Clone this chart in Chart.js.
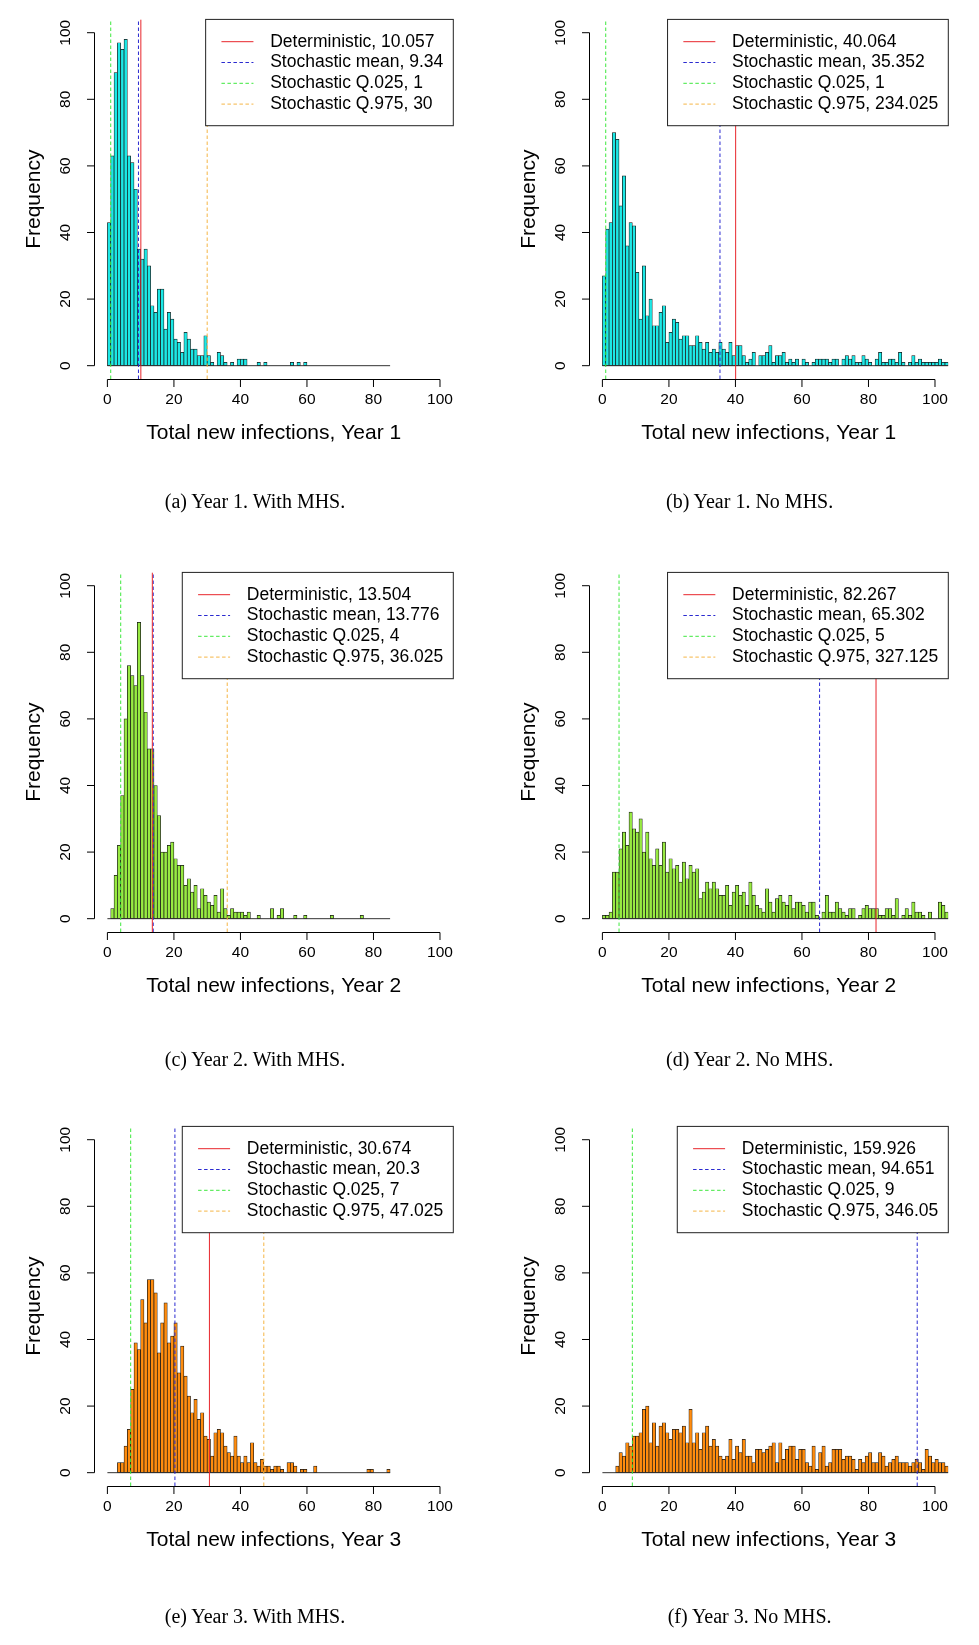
<!DOCTYPE html>
<html>
<head>
<meta charset="utf-8">
<script src="https://cdn.jsdelivr.net/npm/chart.js@4.4.1/dist/chart.umd.min.js"></script>
<style>
  body { margin: 0; background: #fff; width: 979px; height: 1645px; position: relative; overflow: hidden; }
  canvas { position: absolute; }
  .cap { position: absolute; width: 400px; text-align: center; font-family: "Liberation Serif", "Times New Roman", serif; font-size: 20px; line-height: 24px; color: #000; }
</style>
</head>
<body>
<script>
// axis ticks (both panels use the same)
const xTicks = [0, 20, 40, 60, 80, 100];
const yTicks = [0, 20, 40, 60, 80, 100];
const lineNames = ['Deterministic', 'Stochastic mean', 'Stochastic Q.025', 'Stochastic Q.975'];

// histogram counts, one per bin of width 1 starting at 0
const y1Mhs = [43,63,88,97,95,98,63,61,53,35, 32,35,30,18,16,23,23,11,16,14, 8,7,4,10,8,5,5,3,3,9,
  3,1,0,4,3,1,0,1,0,2, 2,2,0,0,0,1,0,1,0,0, 0,0,0,0,0,1,0,1,0,1, 0,0,0,0,0,0,0,0,0,0,
  0,0,0,0,0,0,0,0,0,0, 0,0,0,0,0];
const y1NoMhs = [27,41,43,70,68,48,57,36,43,42, 28,14,30,15,20,12,12,16,18,7, 10,14,13,8,9,9,6,6,9,7,
  5,7,4,5,4,7,5,4,7,3, 6,6,3,1,2,4,0,3,3,4, 6,1,3,3,4,1,2,1,2,0, 2,1,0,1,2,2,2,2,1,2,
  2,0,2,3,2,3,1,1,3,2, 1,0,2,4,1,1,2,2,1,4, 1,0,1,3,1,2,1,1,1,1, 1,2,1,1];
const y2Mhs = [0,3,13,22,37,60,76,73,70,89, 73,62,51,51,40,31,20,20,22,23, 18,16,16,10,12,8,10,3,9,7,
  5,4,7,2,9,3,1,3,2,2, 2,1,2,0,0,1,0,0,0,3, 0,1,3,0,0,0,1,0,0,1, 0,0,0,0,0,0,0,1,0,0,
  0,0,0,0,0,0,1,0,0,0, 0,0,0,0,0];
const y2NoMhs = [1,1,2,14,14,21,26,22,32,27, 26,30,20,26,18,16,21,16,23,14, 18,15,16,11,17,12,16,14,15,6,
  8,11,9,11,9,7,7,10,4,8, 10,7,8,4,11,7,4,3,2,9, 5,2,6,7,5,4,7,3,5,5, 4,2,5,5,1,0,2,7,2,2,
  5,3,2,1,3,3,0,1,3,4, 3,3,3,1,1,3,3,1,6,0, 1,3,1,5,2,2,1,0,2,0, 0,5,4,2];
const y3Mhs = [0,0,0,3,3,8,13,25,39,37, 52,45,58,58,54,36,45,51,39,41, 45,30,38,29,23,18,22,16,18,11,
  10,5,12,13,12,8,6,5,11,5, 3,5,3,9,3,2,4,2,2,1, 2,2,1,0,3,3,2,0,1,1, 0,0,2,0,0,0,0,0,0,0,
  0,0,0,0,0,0,0,0,1,1, 0,0,0,0,1];
const y3NoMhs = [0,0,0,0,2,6,5,9,8,11, 11,12,19,20,9,15,8,14,15,12, 10,13,13,12,14,9,19,9,12,7,
  12,14,8,10,8,5,4,5,10,4, 8,6,10,5,5,3,7,7,6,7, 8,9,3,9,4,7,8,8,4,7, 7,3,2,8,1,6,8,2,3,7,
  7,7,4,5,5,4,1,4,3,5, 6,3,3,6,5,2,3,4,5,3, 3,3,2,3,4,3,1,7,5,3, 4,3,3,2];

// deterministic, stochastic mean, Q.025, Q.975
const y1MhsStats = [10.057, 9.34, 1, 30];
const y1NoMhsStats = [40.064, 35.352, 1, 234.025];
const y2MhsStats = [13.504, 13.776, 4, 36.025];
const y2NoMhsStats = [82.267, 65.302, 5, 327.125];
const y3MhsStats = [30.674, 20.3, 7, 47.025];
const y3NoMhsStats = [159.926, 94.651, 9, 346.05];

const xTitles = ['Total new infections, Year 1', 'Total new infections, Year 2', 'Total new infections, Year 3'];
const captions = ['(a) Year 1. With MHS.', '(b) Year 1. No MHS.', '(c) Year 2. With MHS.',
  '(d) Year 2. No MHS.', '(e) Year 3. With MHS.', '(f) Year 3. No MHS.'];

const lineColors = ['#e8262c', '#2a2ad0', '#3ee83e', '#f5b545'];
const lineDashes = [[], [3.5, 2.5], [3.5, 2.5], [3.5, 2.5]];
const yearFills = ['#1ce8e6', '#98ea42', '#ff8c0e'];

const FONT = '"Liberation Sans", Arial, Helvetica, sans-serif';
const CW = 484, CH = 553;
const colX = [0, 494.6];
const rowY = [0, 553.3, 1106.5];
const capY = [489, 1047, 1604];

const panels = [
  { counts: y1Mhs, stats: y1MhsStats, row: 0, col: 0 },
  { counts: y1NoMhs, stats: y1NoMhsStats, row: 0, col: 1 },
  { counts: y2Mhs, stats: y2MhsStats, row: 1, col: 0 },
  { counts: y2NoMhs, stats: y2NoMhsStats, row: 1, col: 1 },
  { counts: y3Mhs, stats: y3MhsStats, row: 2, col: 0 },
  { counts: y3NoMhs, stats: y3NoMhsStats, row: 2, col: 1 }
];

// R base graphics look: legend box top-right, axes only over the tick range
const rStyle = {
  id: 'rStyle',
  afterDatasetsDraw(chart) {
    const p = chart.options.plugins.rStyle;
    const { ctx, chartArea: a } = chart;
    ctx.save();
    ctx.font = '17.5px ' + FONT;
    const labels = p.stats.map((v, i) => lineNames[i] + ', ' + v);
    const maxW = Math.max(...labels.map(t => ctx.measureText(t).width));
    const w = 64.5 + maxW + 10, h = 106.3;
    const left = a.right - w, top = a.top;
    ctx.fillStyle = '#fff';
    ctx.fillRect(left, top, w, h);
    ctx.strokeStyle = '#222';
    ctx.lineWidth = 1;
    ctx.strokeRect(left, top, w, h);
    labels.forEach((t, i) => {
      const cy = top + 22.3 + 20.8 * i;
      ctx.strokeStyle = lineColors[i];
      ctx.setLineDash(lineDashes[i]);
      ctx.beginPath();
      ctx.moveTo(left + 15.8, cy);
      ctx.lineTo(left + 47.8, cy);
      ctx.stroke();
      ctx.setLineDash([]);
      ctx.fillStyle = '#000';
      ctx.textBaseline = 'middle';
      ctx.fillText(t, left + 64.5, cy);
    });
    ctx.restore();
  },
  afterDraw(chart) {
    const p = chart.options.plugins.rStyle;
    const { ctx, chartArea: a, scales: { x, y } } = chart;
    ctx.save();
    ctx.strokeStyle = '#000';
    ctx.fillStyle = '#000';
    ctx.lineWidth = 1;
    const by = Math.round(a.bottom) + 0.5;
    const lx = Math.round(a.left) + 0.5;
    ctx.beginPath();
    ctx.moveTo(x.getPixelForValue(xTicks[0]), by);
    ctx.lineTo(x.getPixelForValue(xTicks[xTicks.length - 1]), by);
    xTicks.forEach(v => {
      const px = x.getPixelForValue(v);
      ctx.moveTo(px, by);
      ctx.lineTo(px, by + 7.5);
    });
    ctx.moveTo(lx, y.getPixelForValue(yTicks[0]));
    ctx.lineTo(lx, y.getPixelForValue(yTicks[yTicks.length - 1]));
    yTicks.forEach(v => {
      const py = y.getPixelForValue(v);
      ctx.moveTo(lx, py);
      ctx.lineTo(lx - 7.5, py);
    });
    ctx.stroke();

    ctx.font = '15.5px ' + FONT;
    ctx.textAlign = 'center';
    ctx.textBaseline = 'middle';
    xTicks.forEach(v => ctx.fillText(String(v), x.getPixelForValue(v), 400));
    yTicks.forEach(v => {
      ctx.save();
      ctx.translate(66, y.getPixelForValue(v));
      ctx.rotate(-Math.PI / 2);
      ctx.fillText(String(v), 0, 0);
      ctx.restore();
    });

    ctx.font = '21px ' + FONT;
    ctx.fillText(p.xTitle, (a.left + a.right) / 2, 433);
    ctx.save();
    ctx.translate(34, (a.top + a.bottom) / 2);
    ctx.rotate(-Math.PI / 2);
    ctx.fillText('Frequency', 0, 0);
    ctx.restore();
    ctx.restore();
  }
};

panels.forEach((p, idx) => {
  const cv = document.createElement('canvas');
  cv.width = CW;
  cv.height = CH;
  cv.style.left = colX[p.col] + 'px';
  cv.style.top = rowY[p.row] + 'px';
  document.body.appendChild(cv);

  const cap = document.createElement('div');
  cap.className = 'cap';
  cap.textContent = captions[idx];
  cap.style.left = (colX[p.col] + 255 - 200) + 'px';
  cap.style.top = capY[p.row] + 'px';
  document.body.appendChild(cap);

  const vlines = p.stats.map((v, i) => ({
    type: 'line',
    data: [{ x: v, y: -4 }, { x: v, y: 104 }],
    borderColor: lineColors[i],
    borderDash: lineDashes[i],
    borderWidth: 1,
    pointRadius: 0,
    order: 1
  }));

  new Chart(cv, {
    type: 'bar',
    data: {
      datasets: [
        {
          type: 'bar',
          data: p.counts.map((c, k) => ({ x: k + 0.5, y: c })),
          backgroundColor: yearFills[p.row],
          borderColor: '#151515',
          borderWidth: 0.7,
          borderSkipped: false,
          categoryPercentage: 1,
          barPercentage: 1,
          order: 3
        },
        {
          type: 'line',
          data: [{ x: 0, y: 0 }, { x: p.counts.length, y: 0 }],
          borderColor: '#333',
          borderWidth: 1,
          pointRadius: 0,
          order: 2
        },
        ...vlines
      ]
    },
    options: {
      responsive: false,
      animation: false,
      events: [],
      layout: { padding: { left: 94.1, right: 30.7, top: 19.4, bottom: 174 } },
      plugins: {
        legend: { display: false },
        tooltip: { enabled: false },
        rStyle: { stats: p.stats, xTitle: xTitles[p.row] }
      },
      scales: {
        x: { type: 'linear', min: -4, max: 104, offset: false, display: false },
        y: { type: 'linear', min: -4, max: 104, display: false }
      }
    },
    plugins: [rStyle]
  });
});
</script>
</body>
</html>
